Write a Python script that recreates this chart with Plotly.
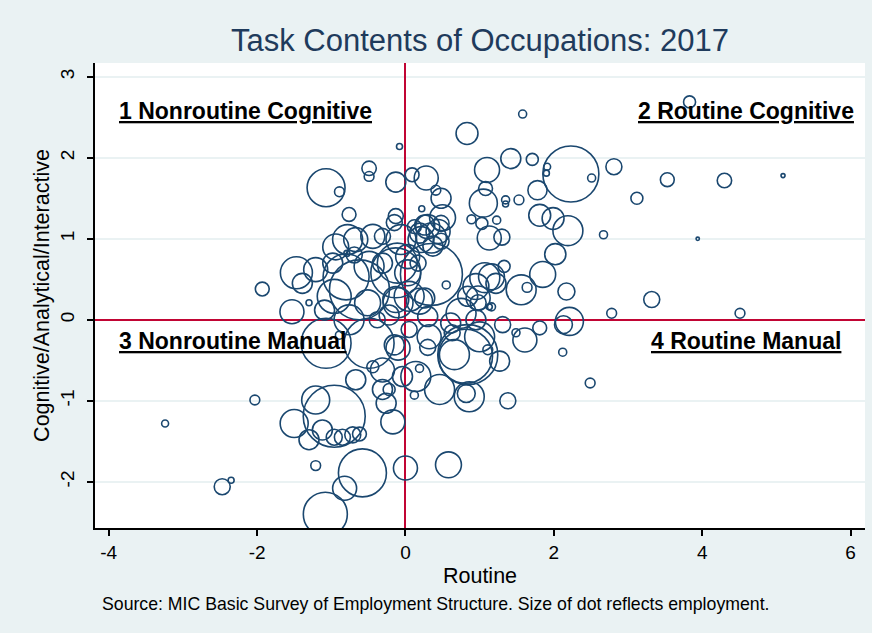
import plotly.graph_objects as go

# Routine task index (x), Cognitive/Analytical/Interactive index (y), employment (10k persons)
routine = [
    3.83, 1.58, 0.83, 2.23, 2.81, 3.53, 4.30, 5.09, 3.12, 2.67, 3.94, 3.32, 2.78, 4.51,
    2.02, 1.85, 2.17, 2.21, 2.13, 2.12, 2.49, 1.38, 0.58, 0.00, 1.81, 1.99, 2.19, 1.78,
    1.71, 1.42, 1.91, 1.90, 2.51, 1.53, 1.35, 1.35, 1.10, 1.08, 1.05, 0.89, 1.03, 1.23,
    1.13, 1.30, 0.28, 0.09, -0.13, 0.41, 0.48, 0.50, 0.22, 0.26, -0.08, -0.49, -0.49,
    -1.07, -0.89, -0.76, -0.13, -0.79, -1.47, -1.39, -1.53, -1.93, -1.30,
    -0.94, -0.67, -0.44, -0.31, -0.78, -0.15, -0.80, -1.21, -0.98, -0.49, -0.31, -0.62,
    -0.13, -0.51, -0.96, -0.13, -0.69, -1.09, -0.22, -0.76, -0.38,
    0.35, 0.55, 0.03, 0.44, 0.35, 0.48, 0.19, 0.26, 0.05, 0.95, 1.16, 1.22, 1.33, 1.56,
    1.64, 0.98, 1.13, 1.31, 0.12, 0.30, 0.48, 0.21, -0.06, 0.37, 0.03, 0.17, -0.11, 0.19,
    -0.10, 1.07, 0.98, 1.16, 0.75, 0.95, 0.30, 0.84,
    0.84, 0.81, 0.66, 1.00, 1.27, 1.11, 0.19, 0.14, 0.46, 0.86, 0.82, 0.12, 0.32, 0.63,
    0.05, 1.49, 1.61, 1.81, 0.30, 0.61,
    -1.07, -0.49, -0.96, -0.58, -1.08, -0.82, -1.50, -1.21, -1.21, -2.47, -2.35, -2.03,
    -3.24, -0.96, -0.85, -0.71, -0.62, -0.17, -0.26, -0.67, -0.31, -0.22, -1.30, -1.12,
    -0.44, -0.89, -0.15, -0.04, -0.31, -0.10,
]
cognitive = [
    2.69, 2.54, 2.30, 1.80, 1.89, 1.73, 1.72, 1.78, 1.50, 1.05, 1.00, 0.25, 0.08, 0.08,
    0.81, 0.56, 0.35, -0.02, -0.06, -0.40, -0.78, -1.00, -1.79, -1.83, 1.29, 1.25, 1.10, 1.60,
    1.98, 1.99, 1.89, 1.81, 1.75, 1.48, 1.48, 1.43, 1.85, 1.62, 1.44, 1.24, 1.19, 1.23,
    1.01, 1.02, 1.75, 1.79, 1.70, 1.60, 1.50, 1.26, 1.37, 1.17, 2.14, 1.87, 1.77,
    1.63, 1.58, 1.30, 1.28, 0.82, 0.58, 0.45, 0.10, 0.38, 0.21,
    0.90, 0.99, 1.03, 1.03, 0.99, 1.20, 0.53, 0.62, 0.70, 0.66, 0.70, 0.37,
    0.25, 0.21, 0.29, 0.58, 0.80, 0.12, 0.06, 0.00, 0.00,
    0.56, 0.43, 0.58, 1.09, 1.01, 0.97, 1.07, 0.27, 0.29, 0.41, 0.53, 0.45, 0.66, 0.37,
    0.40, 0.27, 0.16, -0.06, 1.15, 1.15, 1.19, 0.99, 0.99, 0.91, 0.78, 0.70, 0.70, 0.23,
    0.21, 0.52, 0.21, 0.16, 0.08, 0.00, 0.04, 0.29,
    -0.43, -0.45, -0.43, -0.21, -0.51, -0.37, -0.60, -0.70, -0.86, -0.95, -0.91, -0.93, -0.21, -0.16,
    -0.12, -0.16, -0.25, -0.10, -0.34, -0.04,
    -0.29, -0.29, -1.19, -1.89, -2.40, -2.08, -1.28, -0.99, -1.80, -2.06, -1.98, -0.99,
    -1.28, -1.45, -1.45, -1.42, -1.41, -1.26, -1.03, -0.74, -0.62, -0.86, -1.48, -1.36,
    -0.58, -0.19, -0.31, -0.70, -0.86, -0.35,
]
employment = [
    9, 4, 30, 196, 16, 12, 13, 1, 9, 4, 0.7, 16, 6, 6,
    28, 42, 18, 49, 20, 4, 6, 16, 42, 36, 30, 30, 56, 23,
    9, 25, 3, 2.25, 4, 6, 4, 2.25, 39, 12, 49, 5, 9, 4,
    36, 16, 36, 12, 25, 6, 25, 42, 2.25, 25, 2.25, 13, 6,
    90, 6, 12, 14, 2.25, 64, 25, 36, 12, 2.25,
    42, 36, 36, 16, 56, 16, 132, 36, 25, 56, 25, 225,
    42, 42, 72, 156, 16, 25, 25, 56, 16,
    240, 4, 42, 36, 56, 16, 25, 25, 56, 42, 42, 25, 9, 56,
    6, 36, 2.25, 16, 12, 36, 16, 42, 56, 25, 36, 16, 100, 42,
    56, 56, 16, 4, 56, 25, 25, 25,
    225, 182, 56, 56, 25, 6, 4, 56, 56, 56, 20, 4, 36, 16,
    16, 4, 36, 12, 16, 25,
    156, 156, 240, 144, 121, 36, 49, 49, 6, 16, 2.25, 6,
    3, 16, 16, 16, 12, 36, 25, 25, 36, 9, 25, 25,
    9, 4, 25, 25, 25, 36,
]

x_ticks = [-4, -2, 0, 2, 4, 6]
y_ticks = [-2, -1, 0, 1, 2, 3]
quadrant_labels = ["1 Nonroutine Cognitive", "2 Routine Cognitive",
                   "3 Nonroutine Manual", "4 Routine Manual"]

NAVY = "#1a476f"
RED = "#c10534"
BG = "#eaf2f3"
FONT = "Liberation Sans, Arial, sans-serif"

fig = go.Figure()
fig.add_trace(go.Scatter(
    x=routine, y=cognitive, mode="markers",
    marker=dict(symbol="circle-open", size=employment, sizemode="area", opacity=1,
                sizeref=1 / 8, color=NAVY, line=dict(width=1.6, color=NAVY)),
    hoverinfo="skip", showlegend=False,
))

qfont = dict(family=FONT, size=23, color="black")
fig.add_annotation(x=-3.885, y=2.58, xanchor="left", yanchor="middle", showarrow=False,
                   text="<b><u>%s</u></b>" % quadrant_labels[0], font=qfont)
fig.add_annotation(x=6.07, y=2.58, xanchor="right", yanchor="middle", showarrow=False,
                   text="<b><u>%s</u></b>" % quadrant_labels[1], font=qfont)
fig.add_annotation(x=-3.885, y=-0.26, xanchor="left", yanchor="middle", showarrow=False,
                   text="<b><u>%s</u></b>" % quadrant_labels[2], font=qfont)
fig.add_annotation(x=5.90, y=-0.26, xanchor="right", yanchor="middle", showarrow=False,
                   text="<b><u>%s</u></b>" % quadrant_labels[3], font=qfont)

fig.add_annotation(xref="paper", yref="paper", x=0.0065, y=-0.163, xanchor="left",
                   yanchor="middle", showarrow=False,
                   text="Source: MIC Basic Survey of Employment Structure. Size of dot reflects employment.",
                   font=dict(family=FONT, size=17.7, color="black"))

fig.update_layout(
    width=872, height=633,
    margin=dict(l=95, r=7, t=63, b=105, autoexpand=False),
    paper_bgcolor=BG, plot_bgcolor="white",
    font=dict(family=FONT, color="black"),
    title=dict(text="Task Contents of Occupations: 2017", x=0.5, xref="paper",
               y=1 - 40 / 633, yref="container", yanchor="middle",
               font=dict(family=FONT, size=31, color="#1f3b5c")),
    xaxis=dict(range=[-4.185, 6.195], tickvals=x_ticks, ticktext=[str(v) for v in x_ticks],
               showgrid=False, zeroline=True, zerolinecolor=RED, zerolinewidth=2,
               showline=True, linecolor="black",
               linewidth=2, ticks="outside", ticklen=6, tickwidth=1.5, tickcolor="black",
               automargin=False,
               tickfont=dict(size=19), title=dict(text="Routine", font=dict(size=21.5), standoff=6)),
    yaxis=dict(range=[-2.57, 3.17], tickvals=y_ticks, ticktext=[str(v) for v in y_ticks],
               showgrid=True, gridcolor=BG, gridwidth=2, zeroline=True, zerolinecolor=RED,
               zerolinewidth=2, showline=True,
               linecolor="black", linewidth=2, ticks="outside", ticklen=6, tickwidth=1.5,
               tickcolor="black", tickangle=-90, tickfont=dict(size=19), automargin=False,
               ticklabelstandoff=5,
               title=dict(text="Cognitive/Analytical/Interactive", font=dict(size=21.5), standoff=2)),
)

fig.write_html("out.html", post_script="document.body.style.margin='0';",
               config={"displayModeBar": False})
